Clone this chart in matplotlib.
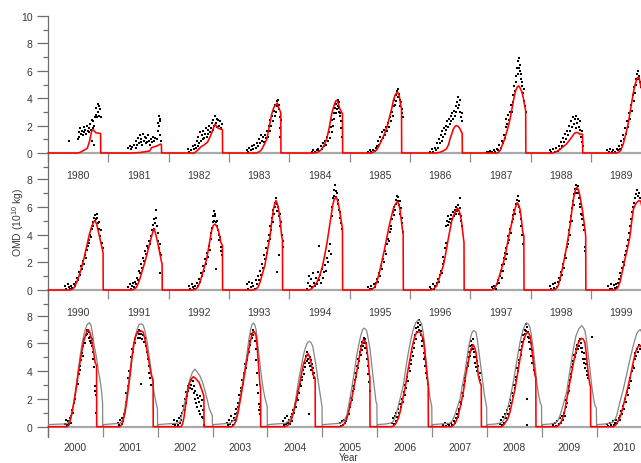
import matplotlib
matplotlib.use('Agg')
import matplotlib.pyplot as plt
from matplotlib.ticker import FixedLocator, NullFormatter

plt.rcParams['font.family'] = ['Liberation Sans', 'DejaVu Sans']
plt.rcParams['mathtext.fontset'] = 'custom'
plt.rcParams['mathtext.rm'] = 'Liberation Sans'
plt.rcParams['mathtext.it'] = 'Liberation Sans:italic'

# ---------------- data: (day of year, OMD in 1e10 kg) ----------------
# observations (black dots), model (red), second model (gray, 2000-2010)
dots_1980 = [(129,0.85),(180,1.0),(185,1.5),(190,1.2),(195,1.8),(200,1.4),(205,1.6),(210,1.3),(215,1.9),(220,1.5),(225,1.7),(230,1.4),(235,2.0),(240,1.6),(245,1.8),(250,1.5),(255,2.1),(260,1.7),(265,2.4),(268,0.9),(270,1.8),(275,2.3),(278,0.6),(280,2.0),(285,2.6),(290,2.8),(293,3.3),(296,2.6),(300,3.6),(303,3.0),(306,3.4),(310,2.7),(314,3.2),(318,2.6)]
red_1980 = [(0,0),(180,0),(195,0.05),(225,0.25),(238,0.35),(252,0.9),(264,1.6),(272,1.7),(280,1.6),(290,1.48),(318,1.42),(319,0),(365,0)]
dots_1981 = [(121,0.35),(128,0.5),(135,0.3),(145,0.45),(155,0.6),(165,0.35),(170,0.9),(175,0.6),(180,1.1),(185,0.7),(190,1.3),(195,0.8),(200,1.0),(205,0.6),(210,1.4),(215,0.9),(220,1.2),(225,0.7),(230,1.1),(235,0.8),(240,1.3),(245,0.9),(250,0.6),(255,1.0),(262,0.8),(268,1.2),(275,0.9),(285,1.1),(292,1.0),(298,1.6),(302,2.2),(305,2.7),(308,2.0),(311,2.5),(313,1.3),(315,2.3),(317,0.9)]
red_1981 = [(0,0),(150,0),(200,0.05),(250,0.15),(262,0.4),(290,0.5),(316,0.65),(321,0.6),(322,0),(365,0)]
dots_1982 = [(118,0.3),(125,0.1),(135,0.2),(145,0.5),(155,0.3),(162,0.6),(168,0.4),(172,0.9),(176,0.5),(180,1.2),(185,0.7),(190,1.5),(195,0.9),(200,1.3),(205,1.0),(210,1.6),(215,1.1),(220,1.4),(225,1.8),(230,1.2),(235,1.7),(240,1.4),(245,2.0),(250,1.5),(255,1.8),(260,2.2),(265,1.7),(270,2.4),(275,2.0),(280,2.7),(285,2.2),(290,2.5),(295,1.9),(300,2.4),(305,2.0),(310,2.3),(315,1.8),(320,2.1)]
red_1982 = [(0,0),(155,0),(175,0.2),(195,0.45),(215,0.6),(235,0.8),(255,1.3),(270,1.8),(280,2.1),(292,1.9),(300,1.8),(325,1.7),(326,0),(365,0)]
dots_1983 = [(107,0.2),(115,0.1),(122,0.4),(130,0.2),(138,0.5),(145,0.3),(152,0.6),(160,0.4),(168,0.7),(175,0.5),(180,1.0),(186,0.7),(192,1.3),(198,0.9),(204,1.2),(210,0.8),(216,1.3),(222,1.1),(228,1.6),(234,1.2),(240,2.0),(245,1.6),(250,2.4),(255,2.0),(260,2.7),(265,2.3),(270,3.1),(275,2.7),(280,3.5),(284,3.0),(288,3.8),(292,3.4),(296,3.9),(300,3.2),(304,3.5),(307,2.6),(309,1.8),(311,1.2),(312,2.4)]
red_1983 = [(0,0),(165,0),(185,0.1),(197,0.25),(212,0.6),(228,1.0),(243,1.9),(258,2.85),(270,3.3),(280,3.5),(292,3.65),(300,3.3),(313,2.95),(314,0),(365,0)]
dots_1984 = [(135,0.1),(145,0.2),(155,0.05),(165,0.2),(175,0.3),(182,0.15),(190,0.5),(196,0.3),(202,0.7),(208,0.5),(214,0.9),(220,0.6),(226,1.2),(232,0.9),(238,1.5),(244,1.1),(250,1.9),(255,1.5),(260,2.4),(264,2.0),(268,2.9),(272,2.5),(276,3.3),(280,2.9),(284,3.6),(288,3.2),(291,3.9),(294,3.4),(297,3.7),(300,3.0),(303,3.3),(306,2.7),(309,2.9),(312,2.3),(315,1.8),(318,1.2)]
red_1984 = [(0,0),(150,0),(170,0.05),(190,0.2),(210,0.55),(225,1.0),(240,1.8),(255,2.8),(268,3.4),(280,3.8),(288,3.85),(296,3.6),(306,3.2),(321,2.85),(322,0),(365,0)]
dots_1985 = [(110,0.1),(120,0.2),(130,0.05),(140,0.25),(150,0.15),(158,0.35),(165,0.5),(172,0.9),(178,0.6),(184,1.2),(190,0.9),(196,1.5),(202,1.1),(208,1.7),(214,1.3),(220,1.9),(226,1.6),(232,2.2),(238,1.9),(244,2.6),(250,2.3),(256,3.0),(260,2.7),(265,3.4),(270,3.9),(274,3.5),(278,4.2),(282,3.8),(286,4.5),(290,4.1),(294,4.7),(298,4.3),(302,3.9),(306,3.4),(310,3.7),(314,2.9),(318,3.2),(322,2.6)]
red_1985 = [(0,0),(130,0),(150,0.1),(165,0.25),(180,0.6),(195,1.0),(210,1.4),(225,1.9),(240,2.6),(253,3.2),(265,3.9),(275,4.25),(288,4.45),(296,4.3),(302,4.0),(310,3.35),(313,3.3),(314,0),(365,0)]
dots_1986 = [(120,0.1),(130,0.3),(140,0.05),(150,0.4),(158,0.2),(165,0.7),(170,0.4),(175,1.0),(180,0.7),(185,1.3),(190,0.9),(195,1.6),(200,1.2),(205,1.8),(210,1.4),(215,2.0),(220,1.7),(225,2.3),(230,1.9),(235,2.5),(240,2.1),(245,2.7),(250,2.3),(255,2.9),(260,2.5),(265,3.1),(270,2.7),(275,3.4),(280,3.0),(284,3.7),(288,3.3),(292,4.1),(296,3.5),(300,3.9),(304,3.0),(308,2.6),(312,2.9),(315,2.3)]
red_1986 = [(0,0),(155,0),(180,0.05),(200,0.15),(220,0.3),(232,0.6),(242,1.05),(252,1.4),(262,1.75),(272,1.95),(280,2.0),(290,1.95),(300,1.8),(312,1.5),(315,1.45),(316,0),(365,0)]
dots_1987 = [(98,0.1),(110,0.05),(120,0.15),(130,0.05),(140,0.2),(150,0.1),(160,0.3),(168,0.2),(175,0.6),(182,0.4),(188,0.9),(194,0.7),(200,1.3),(206,1.1),(212,1.9),(218,2.5),(222,2.1),(228,2.8),(234,2.4),(240,3.0),(245,3.5),(250,3.0),(255,4.2),(260,3.7),(265,4.9),(270,4.5),(274,5.6),(278,5.2),(282,6.2),(286,5.8),(290,6.7),(293,6.2),(296,6.9),(299,6.4),(302,6.0),(305,5.4),(308,5.8),(311,4.9),(314,5.2),(318,4.4),(322,4.7),(326,3.8),(330,3.4),(334,3.0)]
red_1987 = [(0,0),(158,0),(170,0.05),(180,0.2),(190,0.5),(203,0.9),(216,1.4),(228,1.9),(240,2.5),(252,3.3),(262,3.95),(272,4.5),(282,4.8),(292,4.9),(300,4.75),(310,4.5),(320,4.0),(330,3.3),(334,3.1),(335,0),(365,0)]
dots_1988 = [(116,0.2),(125,0.05),(135,0.3),(145,0.1),(155,0.35),(165,0.15),(172,0.5),(178,0.3),(184,0.8),(190,0.5),(196,1.1),(202,0.8),(208,1.4),(214,1.0),(220,1.6),(226,1.3),(232,2.0),(238,1.6),(244,2.3),(250,1.9),(256,2.6),(262,2.1),(268,2.5),(272,1.8),(276,2.7),(280,2.2),(285,2.5),(290,1.9),(295,2.3),(300,1.7),(305,1.2),(309,1.6),(312,0.8),(315,0.5)]
red_1988 = [(0,0),(135,0),(155,0.1),(175,0.25),(195,0.45),(215,0.65),(235,0.95),(250,1.2),(265,1.45),(277,1.5),(290,1.45),(298,1.35),(305,1.4),(313,1.35),(314,0),(365,0)]
dots_1989 = [(94,0.2),(105,0.05),(115,0.3),(125,0.1),(135,0.25),(145,0.05),(155,0.3),(163,0.2),(170,0.5),(176,0.3),(182,0.9),(188,0.6),(194,1.3),(200,1.0),(206,1.8),(212,1.4),(218,2.3),(224,1.9),(230,2.9),(236,2.5),(242,3.5),(248,3.1),(254,4.2),(258,3.8),(262,4.8),(266,4.4),(270,5.4),(274,5.0),(278,5.8),(282,5.4),(286,6.0),(290,5.6),(295,5.2),(300,4.8)]
red_1989 = [(0,0),(152,0),(165,0.05),(180,0.2),(195,0.7),(210,1.4),(225,2.2),(240,3.3),(255,4.4),(268,5.1),(280,5.5),(290,5.5),(300,4.9),(310,4.5),(318,4.2),(319,0),(365,0)]

dots_1990 = [(103,0.3),(110,0.1),(118,0.4),(125,0.2),(132,0.05),(140,0.3),(148,0.15),(155,0.4),(162,0.3),(168,0.6),(174,0.9),(180,0.7),(186,1.3),(192,1.1),(198,1.7),(204,1.5),(210,2.1),(216,1.9),(222,2.5),(228,2.3),(234,2.9),(240,3.2),(245,3.6),(250,3.4),(255,4.0),(260,3.8),(265,4.4),(270,4.9),(274,4.6),(278,5.2),(282,5.0),(286,5.4),(290,5.1),(294,5.5),(298,5.2),(302,4.8),(306,4.4),(310,4.9),(315,3.9),(320,4.3),(325,3.4),(330,3.0)]
red_1990 = [(0,0),(130,0),(145,0.05),(160,0.2),(175,0.6),(190,1.1),(205,1.7),(220,2.4),(235,3.2),(250,4.0),(265,4.6),(278,4.95),(285,5.0),(295,4.7),(305,4.2),(318,3.5),(333,2.7),(334,0),(365,0)]
dots_1991 = [(121,0.2),(128,0.4),(135,0.1),(142,0.3),(150,0.5),(157,0.2),(164,0.6),(170,0.4),(176,0.9),(182,0.7),(188,1.4),(194,1.2),(200,1.9),(206,1.6),(212,2.3),(218,2.1),(224,2.8),(230,2.6),(236,3.2),(242,3.0),(248,3.5),(254,3.3),(260,3.9),(265,4.3),(270,4.7),(274,4.4),(278,5.1),(282,4.8),(286,5.8),(290,5.2),(294,4.6),(298,4.1),(302,3.5),(306,3.0),(310,3.3),(312,1.2),(315,2.7),(320,2.5)]
red_1991 = [(0,0),(140,0),(155,0.05),(170,0.2),(182,0.5),(192,0.85),(205,1.4),(218,1.9),(232,2.5),(247,3.2),(262,3.9),(272,4.3),(278,4.4),(285,4.1),(293,3.7),(302,3.2),(312,2.6),(322,2.0),(325,1.9),(326,0),(365,0)]
dots_1992 = [(121,0.3),(130,0.1),(138,0.4),(146,0.2),(154,0.05),(162,0.3),(170,0.5),(176,0.3),(182,0.8),(188,0.6),(194,1.2),(200,1.0),(206,1.7),(212,1.4),(218,2.2),(224,1.9),(230,2.7),(236,2.4),(242,3.2),(248,2.9),(254,3.7),(258,4.1),(262,4.5),(266,4.9),(270,5.3),(273,5.0),(276,5.7),(279,5.3),(282,5.5),(285,4.9),(288,1.5),(290,4.6),(294,5.0),(298,4.3),(302,4.0),(306,3.6),(310,3.8),(314,3.1),(318,2.8),(322,2.5)]
red_1992 = [(0,0),(145,0),(160,0.05),(175,0.2),(189,0.55),(200,1.0),(215,1.6),(230,2.25),(245,3.3),(260,4.3),(270,4.65),(280,4.75),(290,4.6),(300,4.3),(308,3.9),(315,3.45),(325,3.2),(326,0),(365,0)]
dots_1993 = [(107,0.4),(115,0.1),(122,0.6),(130,0.2),(138,0.5),(146,0.3),(154,0.1),(162,0.7),(168,0.4),(174,1.0),(180,0.7),(186,1.4),(192,1.1),(198,1.9),(204,1.6),(210,2.5),(216,2.2),(222,3.0),(228,2.7),(234,3.5),(240,4.0),(245,3.7),(250,4.6),(255,4.3),(260,5.2),(264,4.9),(268,5.8),(272,5.5),(276,6.3),(280,6.0),(284,6.6),(288,6.2),(290,1.3),(292,5.7),(296,6.0),(300,5.3),(302,2.5),(306,5.5),(310,4.6),(315,4.9),(320,4.0),(324,3.5),(327,3.1)]
red_1993 = [(0,0),(145,0),(160,0.05),(175,0.2),(187,0.55),(200,1.1),(217,1.8),(232,2.8),(248,3.9),(258,4.9),(268,5.8),(276,6.2),(284,6.45),(292,6.2),(300,5.8),(310,4.9),(318,3.9),(323,3.6),(324,0),(365,0)]
dots_1994 = [(105,0.1),(112,0.5),(118,1.0),(124,0.3),(130,0.8),(136,0.2),(142,1.2),(148,0.5),(155,0.3),(160,0.9),(166,0.4),(172,1.3),(176,3.2),(180,0.7),(186,1.1),(192,0.5),(198,1.5),(204,0.9),(210,1.3),(216,1.8),(222,1.4),(228,2.3),(234,2.0),(240,2.8),(246,3.3),(250,2.6),(256,5.3),(260,6.0),(264,6.6),(268,7.2),(272,6.8),(276,7.6),(280,7.1),(284,6.7),(288,7.0),(292,6.2),(296,6.5),(300,5.8),(304,5.2),(308,5.6),(312,4.8),(316,4.4)]
red_1994 = [(0,0),(120,0),(135,0.1),(150,0.3),(166,0.55),(182,1.0),(198,1.6),(212,2.4),(228,3.45),(240,4.4),(252,5.35),(262,6.1),(270,6.5),(282,6.7),(290,6.5),(298,6.1),(305,5.6),(312,5.1),(321,4.4),(322,0),(365,0)]
dots_1995 = [(112,0.2),(120,0.05),(128,0.3),(136,0.1),(144,0.4),(152,0.2),(158,0.5),(164,0.8),(170,0.6),(176,1.2),(182,1.0),(188,1.7),(194,1.5),(200,2.2),(206,2.0),(212,2.8),(218,2.6),(224,3.3),(230,3.7),(236,3.5),(242,4.2),(248,4.6),(252,4.4),(258,5.1),(262,5.6),(266,5.4),(270,6.0),(274,5.8),(278,6.5),(282,6.2),(286,6.8),(290,6.4),(294,6.7),(298,6.1),(302,6.4),(306,5.5),(310,5.9),(314,4.8),(318,5.2),(322,4.2)]
red_1995 = [(0,0),(120,0),(135,0.05),(150,0.2),(163,0.55),(178,1.2),(193,2.0),(208,2.8),(223,3.7),(238,4.6),(253,5.35),(265,5.9),(276,6.2),(288,6.37),(296,6.2),(304,5.8),(312,5.0),(318,4.4),(323,4.2),(324,0),(365,0)]
dots_1996 = [(120,0.2),(128,0.05),(136,0.4),(144,0.1),(152,0.3),(160,0.5),(166,0.8),(172,0.6),(178,1.1),(184,1.4),(190,1.2),(196,1.9),(202,2.4),(206,2.1),(212,3.0),(216,4.6),(220,3.4),(224,5.0),(228,4.7),(232,5.3),(236,4.9),(240,5.1),(245,4.8),(250,5.4),(255,5.1),(260,5.6),(265,5.3),(270,5.8),(275,5.5),(280,6.0),(284,5.7),(288,6.1),(292,5.8),(296,5.5),(300,5.9),(304,6.6),(306,5.3),(310,5.0),(314,4.6)]
red_1996 = [(0,0),(118,0),(130,0.02),(145,0.1),(161,0.3),(175,0.8),(188,1.3),(201,1.75),(215,2.6),(231,3.7),(242,4.4),(252,5.0),(262,5.35),(272,5.6),(286,5.9),(294,5.8),(302,5.5),(310,5.0),(316,4.4),(326,3.4),(327,0),(365,0)]
dots_1997 = [(128,0.2),(136,0.05),(144,0.3),(152,0.1),(160,0.4),(166,0.7),(172,0.5),(178,1.0),(184,1.4),(188,0.9),(192,1.8),(196,1.4),(200,2.3),(204,1.9),(208,2.7),(212,2.2),(216,3.0),(220,2.6),(225,3.4),(230,3.9),(234,3.6),(240,4.4),(245,4.1),(250,4.9),(255,5.4),(260,5.1),(265,5.8),(270,5.5),(275,6.2),(280,6.5),(284,6.2),(288,6.8),(292,6.4),(296,6.0),(300,5.6),(304,5.1),(308,4.6),(312,4.0),(316,3.3)]
red_1997 = [(0,0),(125,0),(140,0.05),(150,0.2),(160,0.45),(175,1.0),(190,1.6),(200,2.0),(215,2.8),(229,3.7),(244,4.5),(259,5.35),(272,5.95),(283,6.3),(292,6.1),(300,5.8),(308,5.1),(316,4.2),(323,3.9),(324,0),(365,0)]
dots_1998 = [(116,0.3),(124,0.05),(132,0.4),(140,0.15),(148,0.5),(156,0.2),(162,0.6),(168,0.9),(174,0.7),(180,1.3),(186,1.1),(192,1.9),(198,1.6),(204,2.5),(210,2.3),(216,3.1),(222,3.6),(226,3.3),(232,4.3),(236,4.0),(240,4.9),(244,5.3),(248,5.0),(252,5.9),(256,6.4),(260,6.1),(264,6.9),(268,7.3),(272,7.0),(276,7.6),(280,7.3),(284,7.5),(288,7.0),(292,6.6),(296,6.2),(300,6.0),(304,5.5),(308,5.1),(312,5.4),(316,4.7),(320,4.3),(326,3.1),(330,2.8)]
red_1998 = [(0,0),(135,0),(150,0.05),(165,0.3),(177,0.8),(192,1.6),(207,2.5),(222,3.5),(237,4.6),(247,5.6),(257,6.5),(267,7.1),(277,7.4),(285,7.3),(293,7.0),(303,6.4),(314,5.6),(323,4.8),(332,3.9),(333,0),(365,0)]
dots_1999 = [(104,0.3),(112,0.05),(120,0.4),(128,0.1),(136,0.35),(144,0.15),(152,0.4),(158,0.2),(165,0.5),(171,0.8),(177,1.2),(183,1.0),(189,1.6),(195,2.0),(201,1.8),(207,2.5),(213,2.8),(219,3.2),(225,3.6),(231,4.1),(237,4.6),(243,5.1),(249,5.6),(255,6.0),(261,6.3),(267,6.6),(273,6.9),(279,7.2),(285,6.8),(291,7.0),(297,6.6)]
red_1999 = [(0,0),(142,0),(160,0.15),(174,0.55),(190,1.4),(205,2.25),(220,3.0),(235,3.9),(245,4.9),(255,5.8),(265,6.1),(275,6.3),(290,6.45),(300,6.4),(315,5.5),(325,4.5),(326,0),(365,0)]

dots_2000 = [(113,0.2),(120,0.5),(126,0.1),(132,0.4),(138,0.2),(144,0.6),(150,0.3),(156,0.8),(162,1.2),(166,1.0),(172,1.7),(178,2.3),(182,2.0),(188,2.8),(194,3.3),(198,3.1),(204,3.8),(210,4.4),(214,4.1),(220,4.8),(226,5.3),(230,5.1),(236,5.8),(242,6.3),(246,6.0),(252,6.6),(258,7.0),(262,6.7),(266,6.9),(270,6.4),(274,6.8),(278,6.2),(282,6.5),(286,6.0),(290,6.3),(294,5.8),(298,5.4),(302,4.9),(306,4.3),(310,2.9),(314,2.6),(318,2.3),(320,1.0)]
red_2000 = [(0,0),(125,0),(138,0.1),(146,0.33),(160,1.0),(175,1.9),(190,2.9),(202,3.9),(218,5.0),(235,6.05),(250,6.6),(260,6.9),(268,7.0),(278,6.8),(290,6.3),(302,5.5),(313,4.65),(323,4.4),(324,0),(365,0)]
gray_2000 = [(0,0),(3,0.15),(60,0.18),(120,0.2),(140,0.35),(155,0.8),(170,1.7),(185,2.8),(200,4.0),(215,5.2),(230,6.2),(245,6.9),(260,7.35),(275,7.5),(285,7.35),(295,6.8),(305,6.0),(315,5.4),(324,4.9),(335,4.0),(346,3.4),(357,2.5),(363,1.7),(364,0),(365,0)]
dots_2001 = [(103,0.3),(110,0.1),(117,0.5),(124,0.2),(130,0.6),(136,0.4),(142,0.9),(148,1.2),(152,1.8),(156,2.4),(160,2.2),(164,2.9),(168,3.5),(172,3.2),(176,4.0),(180,3.8),(184,4.4),(190,5.0),(196,5.6),(200,5.4),(206,6.0),(212,6.3),(216,6.0),(222,6.6),(228,6.8),(232,6.4),(238,7.0),(242,6.7),(246,6.9),(250,6.4),(255,3.1),(256,6.7),(262,6.3),(268,6.6),(274,6.1),(280,6.4),(286,5.8),(292,5.4),(298,4.9),(304,4.4),(310,3.9),(316,3.5),(322,3.0)]
red_2001 = [(0,0),(112,0),(125,0.15),(135,0.45),(148,1.05),(160,1.9),(170,2.8),(181,3.7),(192,4.8),(203,5.8),(214,6.4),(225,6.7),(236,6.85),(247,6.9),(258,6.9),(269,6.8),(280,6.3),(292,5.6),(303,4.9),(314,4.2),(325,3.6),(334,3.4),(335,0),(365,0)]
gray_2001 = [(0,0),(3,0.15),(60,0.2),(115,0.25),(126,0.4),(136,0.55),(148,1.4),(158,2.2),(169,3.0),(181,4.1),(192,5.0),(203,5.6),(216,6.5),(229,7.05),(240,7.35),(247,7.4),(258,7.4),(269,7.3),(280,6.9),(292,6.3),(303,5.5),(314,4.6),(327,3.5),(340,2.5),(352,1.8),(363,1.3),(364,0),(365,0)]
dots_2002 = [(103,0.2),(110,0.5),(118,0.1),(125,0.4),(132,0.15),(140,0.6),(146,0.3),(152,0.8),(158,0.5),(164,1.0),(170,1.5),(174,1.2),(180,2.0),(186,1.7),(190,2.5),(194,2.2),(198,2.9),(204,2.6),(208,3.1),(214,2.8),(218,3.4),(222,3.0),(228,2.7),(232,3.3),(238,2.4),(242,2.9),(246,2.0),(250,2.6),(256,1.7),(260,2.3),(264,1.4),(268,2.1),(272,1.1),(276,1.8),(280,0.9),(284,2.2),(288,1.5),(292,0.7),(296,1.9),(300,1.2),(304,0.6),(306,0.1)]
red_2002 = [(0,0),(155,0),(165,0.2),(175,0.7),(185,1.5),(195,2.3),(205,2.9),(215,3.25),(228,3.5),(237,3.6),(250,3.5),(262,3.35),(275,3.2),(285,2.9),(295,2.6),(307,2.2),(308,0),(365,0)]
gray_2002 = [(0,0),(3,0.15),(60,0.2),(130,0.25),(148,0.35),(165,1.0),(181,1.8),(198,2.7),(215,3.45),(230,3.9),(248,4.15),(262,3.95),(281,3.65),(298,3.2),(314,2.6),(328,2.0),(343,1.3),(363,0.8),(364,0),(365,0)]
dots_2003 = [(94,0.3),(102,0.1),(110,0.5),(116,0.2),(122,0.8),(128,0.4),(134,0.15),(140,0.6),(146,0.9),(150,0.5),(156,1.3),(160,1.0),(166,1.7),(170,1.4),(176,2.3),(180,2.0),(186,2.8),(190,2.6),(196,3.4),(200,3.1),(206,3.9),(210,3.7),(216,4.5),(220,4.2),(226,5.1),(230,4.8),(236,5.6),(240,5.4),(246,6.2),(250,5.9),(256,6.7),(260,6.4),(266,7.0),(270,6.6),(276,6.8),(280,6.2),(286,5.6),(290,4.8),(294,3.9),(298,3.0),(302,2.4),(306,1.6),(310,1.2),(314,0.9),(318,1.4)]
red_2003 = [(0,0),(125,0),(140,0.1),(155,0.4),(170,1.05),(187,2.1),(204,3.2),(220,4.3),(238,5.4),(250,6.1),(260,6.55),(271,6.9),(280,6.8),(289,6.55),(296,5.8),(304,4.65),(310,3.7),(315,3.0),(319,2.8),(320,0),(365,0)]
gray_2003 = [(0,0),(3,0.15),(60,0.2),(116,0.25),(135,0.4),(150,0.6),(160,0.8),(177,1.7),(194,2.75),(210,3.9),(227,5.1),(240,6.2),(253,7.0),(262,7.35),(271,7.47),(280,7.35),(289,7.0),(300,6.0),(311,4.9),(324,3.7),(337,2.7),(350,2.0),(363,1.45),(364,0),(365,0)]
dots_2004 = [(105,0.4),(112,0.1),(118,0.6),(124,0.2),(130,0.8),(136,0.3),(142,0.5),(148,0.2),(154,0.7),(160,0.4),(166,0.9),(172,1.2),(178,1.0),(184,1.6),(190,1.4),(196,2.1),(200,1.9),(206,2.6),(212,2.4),(218,3.1),(222,2.9),(228,3.6),(232,3.4),(238,4.1),(242,3.8),(248,4.6),(252,4.3),(256,5.1),(260,4.7),(264,5.4),(268,4.9),(272,5.2),(274,0.9),(276,4.6),(280,5.0),(284,4.4),(288,4.8),(292,4.1),(296,4.5),(300,3.8),(304,4.2),(308,3.5),(312,3.9)]
red_2004 = [(0,0),(115,0),(130,0.05),(145,0.2),(161,0.55),(177,1.2),(194,2.0),(211,2.9),(228,3.9),(242,4.6),(256,5.0),(264,5.2),(272,5.25),(280,5.0),(289,4.65),(297,4.2),(305,3.7),(317,3.5),(318,0),(365,0)]
gray_2004 = [(0,0),(3,0.15),(60,0.2),(120,0.25),(140,0.4),(155,0.6),(172,1.05),(188,2.0),(205,3.2),(222,4.2),(238,5.1),(250,5.6),(261,5.95),(270,6.1),(278,6.15),(290,6.05),(301,5.8),(312,5.1),(323,4.4),(334,3.5),(345,2.7),(355,2.0),(363,1.45),(364,0),(365,0)]
dots_2005 = [(117,0.3),(124,0.05),(130,0.4),(136,0.15),(142,0.5),(148,0.25),(154,0.6),(160,0.4),(166,0.8),(172,1.1),(176,0.9),(182,1.6),(186,1.4),(192,2.1),(196,1.9),(202,2.6),(206,2.9),(210,2.7),(216,3.4),(220,3.9),(224,3.6),(230,4.4),(234,4.2),(240,4.9),(244,4.7),(250,5.4),(254,5.2),(258,5.8),(262,5.5),(266,6.1),(270,5.8),(274,6.4),(278,6.0),(282,6.3),(286,5.7),(290,6.0),(294,5.3),(298,4.9),(302,4.4),(306,3.8),(310,3.2),(314,2.6)]
red_2005 = [(0,0),(115,0),(130,0.05),(145,0.2),(162,0.55),(178,1.2),(195,2.0),(211,2.9),(228,3.9),(242,4.8),(255,5.6),(265,6.05),(273,6.27),(282,6.2),(290,6.05),(298,5.5),(306,4.65),(313,3.7),(316,3.6),(317,0),(365,0)]
gray_2005 = [(0,0),(3,0.15),(60,0.2),(120,0.25),(140,0.4),(150,0.55),(162,0.8),(178,1.7),(195,2.75),(212,3.9),(228,5.1),(242,5.9),(255,6.55),(266,6.95),(277,7.1),(286,7.05),(295,6.9),(306,6.3),(317,5.6),(328,4.5),(339,3.45),(348,2.6),(357,1.8),(363,1.6),(364,0),(365,0)]
dots_2006 = [(96,0.3),(104,0.6),(110,0.2),(116,0.8),(122,0.4),(128,1.0),(134,0.7),(140,1.3),(146,1.0),(152,1.6),(158,1.4),(164,2.0),(170,1.8),(176,2.5),(182,2.3),(188,3.0),(194,2.8),(200,3.6),(206,3.3),(212,4.2),(216,4.0),(222,4.8),(226,4.5),(232,5.4),(236,5.1),(242,6.0),(246,5.7),(252,6.6),(256,6.3),(260,7.1),(264,6.8),(268,7.5),(272,7.2),(276,7.7),(280,7.0),(284,7.3),(288,6.6),(292,6.9),(296,6.2),(300,5.8),(304,6.3),(308,5.3),(312,4.9),(316,4.4),(320,5.0),(326,3.9),(332,3.5),(336,3.1)]
red_2006 = [(0,0),(95,0),(110,0.05),(125,0.25),(140,0.6),(152,1.05),(168,1.9),(185,2.75),(200,3.8),(218,4.9),(230,5.6),(240,6.1),(250,6.5),(262,6.8),(275,6.85),(285,6.8),(296,6.6),(307,6.3),(316,5.4),(325,4.4),(336,3.2),(339,3.0),(340,0),(365,0)]
gray_2006 = [(0,0),(3,0.15),(60,0.2),(100,0.3),(115,0.55),(130,1.05),(152,2.0),(174,3.0),(190,4.2),(207,5.35),(224,6.3),(240,7.0),(256,7.5),(273,7.7),(285,7.6),(296,7.4),(307,6.7),(318,5.6),(329,4.3),(340,3.0),(351,2.1),(363,1.45),(364,0),(365,0)]
dots_2007 = [(75,0.1),(85,0.3),(95,0.05),(105,0.2),(115,0.1),(125,0.3),(135,0.15),(145,0.4),(152,0.3),(158,0.6),(164,0.9),(170,0.7),(176,1.3),(182,1.1),(188,1.8),(194,1.6),(200,2.4),(206,2.2),(212,3.0),(218,3.5),(222,3.3),(228,4.2),(232,4.6),(238,4.4),(242,5.0),(246,5.4),(250,5.1),(254,5.8),(258,5.5),(262,6.2),(266,5.9),(270,6.3),(274,5.6),(278,5.0),(282,5.4),(286,4.6),(290,5.0),(294,4.3),(298,4.7),(302,4.0),(306,4.4),(310,3.6),(316,3.9),(320,3.4)]
red_2007 = [(0,0),(128,0),(142,0.1),(158,0.35),(174,0.8),(191,1.6),(208,2.5),(225,3.8),(241,4.65),(250,5.2),(259,5.6),(274,5.9),(283,5.7),(292,5.35),(300,4.6),(307,3.7),(318,3.2),(327,3.0),(328,0),(365,0)]
gray_2007 = [(0,0),(3,0.15),(60,0.2),(120,0.25),(135,0.45),(150,0.8),(168,1.4),(186,2.0),(203,3.1),(219,3.95),(230,4.8),(241,5.6),(250,6.1),(259,6.55),(266,6.8),(274,6.92),(283,6.9),(292,6.8),(302,6.2),(312,5.35),(325,4.2),(337,3.2),(348,2.3),(363,1.4),(364,0),(365,0)]
dots_2008 = [(87,0.2),(95,0.5),(102,0.1),(108,0.7),(114,0.3),(120,0.9),(126,0.6),(132,1.2),(138,0.9),(144,1.5),(150,1.3),(156,1.9),(162,1.7),(168,2.4),(174,2.2),(180,3.0),(186,2.8),(192,3.6),(196,3.4),(202,4.2),(206,4.0),(212,4.8),(216,4.6),(222,5.5),(226,5.2),(232,6.1),(236,5.8),(242,6.6),(246,6.3),(250,7.0),(254,6.7),(258,7.4),(262,6.9),(264,2.0),(266,7.2),(268,0.1),(270,6.5),(274,6.8),(278,6.1),(282,6.4),(286,5.6),(290,6.0),(294,5.1),(298,5.5),(302,4.6),(306,5.0),(310,4.1),(314,4.5),(320,3.8)]
red_2008 = [(0,0),(96,0),(110,0.1),(125,0.35),(140,0.6),(153,1.05),(170,1.9),(187,2.75),(203,3.8),(220,4.9),(233,5.7),(246,6.3),(258,6.65),(268,6.8),(277,6.75),(286,6.55),(295,5.9),(304,5.1),(312,4.3),(320,3.7),(325,3.5),(326,0),(365,0)]
gray_2008 = [(0,0),(3,0.15),(60,0.2),(100,0.3),(115,0.55),(131,1.05),(153,2.0),(175,3.2),(192,4.3),(208,5.35),(224,6.3),(238,6.9),(252,7.3),(264,7.47),(276,7.4),(286,7.15),(297,6.5),(308,5.6),(320,4.4),(331,3.2),(342,2.4),(353,1.8),(363,1.5),(364,0),(365,0)]
dots_2009 = [(77,0.1),(87,0.3),(96,0.05),(104,0.4),(112,0.2),(120,0.6),(128,0.3),(134,0.8),(140,0.5),(146,1.0),(152,0.8),(158,1.4),(164,1.9),(168,1.7),(174,2.4),(178,2.9),(182,2.6),(188,3.4),(192,3.8),(196,3.6),(202,4.3),(206,4.7),(210,4.5),(216,5.2),(220,5.0),(226,5.6),(230,5.3),(236,5.9),(240,5.6),(246,6.2),(250,5.8),(254,6.3),(258,5.7),(262,6.0),(266,5.4),(270,5.7),(274,4.9),(278,5.3),(282,4.6),(286,4.9),(290,4.2),(294,4.5),(298,3.7),(302,4.0),(306,3.5),(332,6.45)]
red_2009 = [(0,0),(98,0),(112,0.1),(128,0.35),(142,0.7),(154,1.25),(170,2.2),(187,3.2),(203,4.2),(220,5.1),(235,5.8),(249,6.2),(265,6.37),(276,6.3),(287,6.05),(296,5.2),(305,4.2),(313,3.5),(320,3.0),(324,2.9),(325,0),(365,0)]
gray_2009 = [(0,0),(3,0.15),(60,0.2),(95,0.3),(110,0.5),(121,0.8),(143,1.6),(165,2.5),(182,3.7),(199,4.9),(213,5.8),(227,6.55),(246,7.05),(265,7.28),(276,7.15),(287,6.9),(298,6.2),(310,5.1),(321,4.0),(332,2.95),(343,2.1),(354,1.5),(363,1.35),(364,0),(365,0)]
dots_2010 = [(66,0.2),(76,0.05),(86,0.3),(96,0.1),(106,0.4),(114,0.15),(122,0.3),(130,0.5),(138,0.25),(146,0.6),(152,0.8),(158,0.5),(164,1.1),(170,0.9),(176,1.5),(182,1.3),(188,2.0),(194,1.8),(200,2.5),(206,2.3),(212,3.0),(218,2.8),(224,3.5),(230,3.3),(236,4.0),(242,4.4),(246,4.2),(252,4.9),(258,5.3),(262,5.1),(268,5.6),(274,5.4),(280,5.9),(286,5.6),(292,5.8)]
red_2010 = [(0,0),(110,0),(125,0.1),(140,0.35),(152,0.6),(166,1.05),(188,2.0),(210,2.95),(227,3.8),(243,4.65),(257,5.3),(270,5.7),(285,5.85),(295,5.85),(305,5.3),(315,4.3),(322,3.8),(323,0),(365,0)]
gray_2010 = [(0,0),(3,0.15),(60,0.2),(105,0.3),(120,0.5),(133,0.8),(155,1.8),(177,2.7),(200,3.8),(222,4.9),(240,5.7),(255,6.3),(266,6.7),(277,6.9),(290,7.0),(300,6.8),(312,5.8),(325,4.5),(340,3.0),(355,1.8),(363,1.5),(364,0),(365,0)]

years_top = list(range(1980, 1990))
years_mid = list(range(1990, 2000))
years_bot = list(range(2000, 2011))
dots_top = [dots_1980, dots_1981, dots_1982, dots_1983, dots_1984, dots_1985, dots_1986, dots_1987, dots_1988, dots_1989]
red_top = [red_1980, red_1981, red_1982, red_1983, red_1984, red_1985, red_1986, red_1987, red_1988, red_1989]
dots_mid = [dots_1990, dots_1991, dots_1992, dots_1993, dots_1994, dots_1995, dots_1996, dots_1997, dots_1998, dots_1999]
red_mid = [red_1990, red_1991, red_1992, red_1993, red_1994, red_1995, red_1996, red_1997, red_1998, red_1999]
dots_bot = [dots_2000, dots_2001, dots_2002, dots_2003, dots_2004, dots_2005, dots_2006, dots_2007, dots_2008, dots_2009, dots_2010]
red_bot = [red_2000, red_2001, red_2002, red_2003, red_2004, red_2005, red_2006, red_2007, red_2008, red_2009, red_2010]
gray_bot = [gray_2000, gray_2001, gray_2002, gray_2003, gray_2004, gray_2005, gray_2006, gray_2007, gray_2008, gray_2009, gray_2010]

# ---------------- figure ----------------
W, H = 641, 464
fig = plt.figure(figsize=(W / 100, H / 100), dpi=100)

AX_COL = '#6e6e6e'
TXT_COL = '#3a3a3a'
FS = 7.5


def add_axes_px(x0, y0, x1, y1):
    return fig.add_axes([x0 / W, 1 - y1 / H, (x1 - x0) / W, (y1 - y0) / H])


def to_x(year, series):
    return [year + d / 365.0 for d, _ in series], [v for _, v in series]


def panel(ax, years, dots, reds, grays, px_per_year, ylim, majors, minors, lab_off, tick_len):
    x0 = years[0]
    ax.set_xlim(x0, x0 + (641 - 48) / px_per_year)
    ax.set_ylim(*ylim)
    ax.patch.set_alpha(0)
    for s in ('top', 'right'):
        ax.spines[s].set_visible(False)
    ax.spines['left'].set_color(AX_COL)
    ax.spines['left'].set_linewidth(0.9)
    ax.spines['bottom'].set_position(('data', 0))
    ax.spines['bottom'].set_color('#a9a9a9')
    ax.spines['bottom'].set_linewidth(1.6)
    ax.spines['bottom'].set_zorder(1)

    ax.yaxis.set_major_locator(FixedLocator(majors))
    ax.yaxis.set_minor_locator(FixedLocator(minors))
    ax.tick_params(axis='y', which='major', length=8, width=0.9, color=AX_COL,
                   labelsize=FS, labelcolor=TXT_COL, pad=3)
    ax.tick_params(axis='y', which='minor', length=3.6, width=0.9, color=AX_COL)

    ax.xaxis.set_major_locator(FixedLocator(list(range(x0, x0 + len(years) + 1))))
    ax.xaxis.set_major_formatter(NullFormatter())
    ax.xaxis.set_minor_locator(FixedLocator([]))
    ax.tick_params(axis='x', which='major', direction='out', length=tick_len,
                   width=0.9, color='#8a8a8a')

    for yr, d in zip(years, dots):
        xs, ys = to_x(yr, d)
        ax.scatter(xs, ys, s=4.2, marker='s', c='black', linewidths=0, zorder=3)
    if grays is not None:
        gx, gy = [], []
        for yr, g in zip(years, grays):
            a, b = to_x(yr, g)
            gx += a
            gy += b
        ax.plot(gx, gy, color='#858585', lw=0.9, zorder=4)
    rx, ry = [], []
    for yr, r in zip(years, reds):
        a, b = to_x(yr, r)
        rx += a
        ry += b
    ax.plot(rx, ry, color='#ff0000', lw=1.15, zorder=5)

    for yr in years:
        ax.annotate(str(yr), xy=(yr + 0.5, 0), xytext=(0, -lab_off * 0.72),
                    textcoords='offset points', ha='center', va='center',
                    fontsize=FS, color=TXT_COL, annotation_clip=False)


ax1 = add_axes_px(48, 17, 641, 167.7)
panel(ax1, years_top, dots_top, red_top, None, 60.35, (-1, 10),
      [0, 2, 4, 6, 8, 10], [-1, 1, 3, 5, 7, 9], 22, 6.5)

ax2 = add_axes_px(48, 167.5, 641, 304.9)
panel(ax2, years_mid, dots_mid, red_mid, None, 60.35, (-1, 8.9),
      [0, 2, 4, 6, 8], [-1, 1, 3, 5, 7], 22, 6.5)

ax3 = add_axes_px(48, 304.9, 641, 438.1)
panel(ax3, years_bot, dots_bot, red_bot, gray_bot, 54.87, (-0.75, 8.85),
      [0, 2, 4, 6, 8], [1, 3, 5, 7], 20, 7.3)

fig.text(18 / W, 1 - 222 / H, r'OMD (10$^{10}$ kg)', rotation=90, ha='center', va='center',
         fontsize=FS, color=TXT_COL)
fig.text(349 / W, 1 - 463.5 / H, 'Year', ha='center', va='bottom', fontsize=7, color=TXT_COL)

fig.savefig('out.png', dpi=100)
